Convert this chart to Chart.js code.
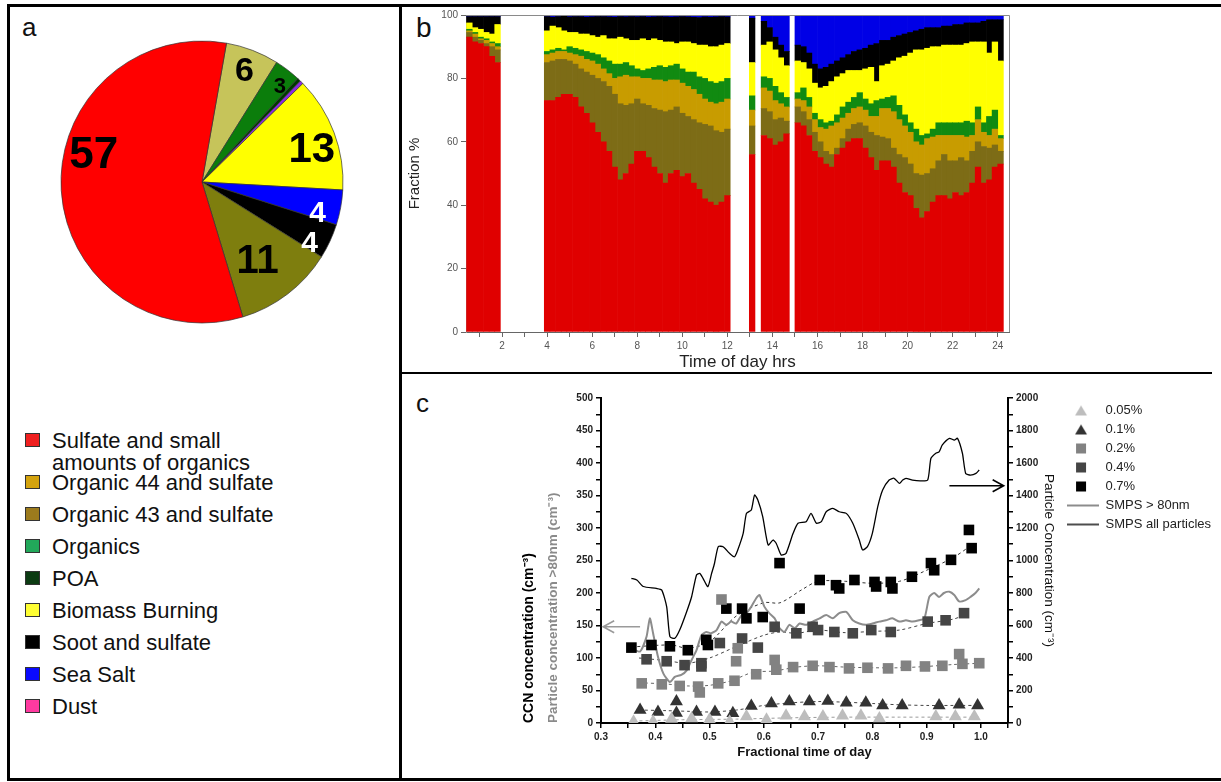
<!DOCTYPE html>
<html>
<head>
<meta charset="utf-8">
<script src="https://cdn.jsdelivr.net/npm/chart.js@4.4.1/dist/chart.umd.min.js"></script>
<style>
  body { margin: 0; background: #fff; font-family: "Liberation Sans", Arial, sans-serif; }
  #fig { position: relative; width: 1221px; height: 782px; overflow: hidden; }
  canvas { position: absolute; }
  .rule { position: absolute; background: #000; z-index: 5; }
  .tag { position: absolute; font-size: 26px; color: #111; }
  .leg { position: absolute; left: 25px; font-size: 22px; line-height: 22px; color: #111; }
  .sw { position: absolute; left: 0; top: 3px; width: 15px; height: 14px; border: 1px solid #333; box-sizing: border-box; }
  .lt { position: absolute; left: 27px; top: 0; white-space: nowrap; }
</style>
</head>
<body>
<div id="fig">
  <div class="rule" style="left:7px;top:4px;width:1214px;height:3px"></div>
  <div class="rule" style="left:7px;top:4px;width:3px;height:777px"></div>
  <div class="rule" style="left:7px;top:778px;width:1214px;height:3px"></div>
  <div class="rule" style="left:399px;top:4px;width:3px;height:777px"></div>
  <div class="rule" style="left:400px;top:372px;width:812px;height:2px"></div>

  <div class="tag" style="left:22px;top:12px">a</div>
  <div class="tag" style="left:416px;top:12px;font-size:28px">b</div>
  <div class="tag" style="left:416px;top:388px">c</div>

  <canvas id="pie" width="300" height="300" style="left:52px;top:32px"></canvas>
  <canvas id="bars" width="817" height="370" style="left:402px;top:5px"></canvas>
  <canvas id="ccn" width="819" height="402" style="left:402px;top:376px"></canvas>

  <div id="pieLegend"></div>
</div>

<script>
// ---------- panel a : campaign average composition ----------
const pieLabels = ['Organic 44 and sulfate', 'Organics', 'POA', 'Dust', 'Biomass Burning',
  'Sea Salt', 'Soot and sulfate', 'Organic 43 and sulfate', 'Sulfate and small amounts of organics'];
const pieValues = [6.1, 3, 0.4, 0.4, 13.2, 4, 4, 11.4, 57.4];
const pieColors = ['#c6c45a', '#0b7d0b', '#003a00', '#8a2be2', '#ffff00', '#0000ff', '#000000', '#7e7e0e', '#ff0000'];

// legend below the pie (its own order and swatch colours)
const legendNames = ['Sulfate and small<br>amounts of organics', 'Organic 44 and sulfate', 'Organic 43 and sulfate',
  'Organics', 'POA', 'Biomass Burning', 'Soot and sulfate', 'Sea Salt', 'Dust'];
const legendColors = ['#f02020', '#d4a30e', '#9c7b1d', '#22a85a', '#0c3b12', '#ffff33', '#000000', '#0a0aff', '#ff3aa0'];
const legendRows = [430, 472, 504, 536, 568, 600, 632, 664, 696];

// ---------- panel b : fraction by time of day ----------
const hours = [0.55, 0.8, 1.05, 1.3, 1.55, 1.8,
  4, 4.25, 4.5, 4.75, 5, 5.25, 5.5, 5.75, 6, 6.25, 6.5, 6.75, 7, 7.25, 7.5, 7.75, 8, 8.25, 8.5, 8.75,
  9, 9.25, 9.5, 9.75, 10, 10.25, 10.5, 10.75, 11, 11.25, 11.5, 11.75, 12,
  13.1,
  13.625, 13.875, 14.125, 14.375, 14.625,
  15.125, 15.375, 15.625, 15.875, 16.125, 16.375, 16.625, 16.875, 17.125, 17.375, 17.625, 17.875,
  18.125, 18.375, 18.625, 18.875, 19.125, 19.375, 19.625, 19.875, 20.125, 20.375, 20.625, 20.875,
  21.125, 21.375, 21.625, 21.875, 22.125, 22.375, 22.625, 22.875, 23.125, 23.375, 23.625, 23.875, 24.125];
const hourTicks = [1, 2, 3, 4, 5, 6, 7, 8, 9, 10, 11, 12, 13, 14, 15, 16, 17, 18, 19, 20, 21, 22, 23, 24];

// upper edge of each layer (cumulative %)
const sulfateTop = [93, 91.5, 91, 90, 87, 85,
  73, 73, 74, 75, 75, 74, 71, 69, 66, 63, 60, 57, 52, 48, 50, 53, 57, 57, 55, 52, 50, 47, 50, 51, 49, 50, 47, 45, 42, 41, 40, 41, 43,
  56,
  62, 61, 59, 60, 62.5,
  66, 65, 62, 57, 55, 53, 52, 56, 58, 60, 61, 61, 58, 55, 51, 54, 54, 52, 47, 44, 43, 39, 36, 38, 41, 43, 43, 42, 44, 43, 44, 47, 52, 47, 48, 52, 53];
const org43Top = [94.5, 93, 92, 91, 90, 89,
  85, 85.5, 86, 86, 85.5, 84.5, 83, 82, 81, 80, 79, 77.5, 75, 72, 71.5, 72, 73.5, 72, 71.5, 70.5, 70, 69.5, 70, 71, 69, 68, 67, 66, 65.5, 65, 63.5, 63, 64,
  65,
  70.5, 69.5, 67, 67.5, 66.5,
  71, 69.5, 67, 63, 60, 57, 56, 58, 61, 64, 65.5, 66, 65, 63, 62, 61.5, 61, 58, 56, 55, 53, 50, 49.5, 50, 51.5, 54, 56, 54, 54, 55, 54, 57, 60, 58.5, 58, 59, 57];
const org44Top = [95, 94, 92.5, 92, 91, 90,
  87.5, 88, 88.5, 88.5, 88, 87.5, 87, 86, 85.5, 84.5, 83, 81.5, 80, 80.5, 81, 80.5, 80.5, 80, 80, 79.5, 79.5, 79, 79.5, 79.5, 78.5, 77.5, 76.5, 75, 73.5, 72.5, 72, 72.5, 73.5,
  70,
  77, 76, 73, 72, 71,
  73.5, 73, 71, 67, 64.5, 64, 65, 66, 67.5, 69, 70.5, 71, 70, 68, 68, 70.5, 70.5, 69.5, 67, 65, 63, 60, 59, 61, 61.5, 62, 62, 62, 62, 62, 61.5, 62, 67, 63, 62, 64, 61];
const organicsTop = [95.5, 94.5, 93, 92.5, 91.5, 91,
  88.5, 89, 89.5, 89, 90, 89.5, 89, 88.5, 88, 87.5, 86.5, 85.5, 84.5, 84.5, 85, 84, 83, 82.5, 83, 83.5, 84, 83.5, 84, 84.5, 83, 82, 82, 80.5, 80, 79, 78.5, 79, 80,
  74.5,
  80.5, 80, 77.5, 75.5, 74,
  75.5, 77, 74, 69, 67, 66, 66.5, 68.5, 71, 72.5, 74, 75.5, 73.5, 72, 73, 73.5, 74, 74.5, 71.5, 68.5, 66, 64, 62, 62.5, 64, 66, 66, 66, 66, 66, 66.5, 66, 71, 66, 68, 70, 62];
const biomassTop = [97.5, 96, 95.5, 94.5, 94, 97,
  95, 96.5, 96, 95, 94.5, 94.5, 94, 94, 93.5, 93, 93.5, 92.5, 92.5, 93, 92.5, 92, 92, 92.5, 92, 92.5, 92, 91.5, 91.5, 91, 91.5, 91.5, 91, 90.5, 90.5, 90, 90, 90.5, 91,
  85,
  90.5, 91.5, 89, 86.5, 84,
  85.5, 85, 83, 78.5, 77, 77.5, 79, 80.5, 81.5, 82.5, 82.5, 82.5, 83, 83.5, 79, 84, 84.5, 85.5, 86.5, 87, 88, 89, 89, 89.5, 90, 90, 90.5, 90.5, 90.5, 90.5, 91, 91.5, 91.5, 91.5, 88, 91.5, 85.5];
const sootTop = [99.5, 99.5, 99.5, 99.5, 99.5, 99.5,
  99.5, 99.3, 99.5, 99.6, 99.4, 99.5, 99.5, 99.3, 99.4, 99.5, 99.5, 99.4, 99.3, 99.5, 99.4, 99.5, 99.4, 99.5, 99.3, 99.4, 99.5, 99.4, 99.3, 99.4, 99.5, 99.4, 99.3, 99.2, 99.4, 99.3, 99.4, 99.5, 99.4,
  99,
  98, 96, 93, 90.5, 88.5,
  90.5, 90, 88, 84.5, 83, 83.5, 84.5, 85.5, 86.5, 87.5, 88.5, 89, 89.5, 90.5, 91, 92, 92, 93, 93.5, 94, 94.5, 95, 95.5, 96, 96, 96, 96.5, 96.5, 97, 97, 97.5, 97.5, 97.5, 98, 98.5, 98.5, 98.5];

const layerNames = ['Sulfate and small amounts of organics', 'Organic 43 and sulfate', 'Organic 44 and sulfate',
  'Organics', 'Biomass Burning', 'Soot and sulfate', 'Sea Salt'];
const layerColors = ['#e00000', '#7d6c16', '#c89c00', '#118a11', '#ffff00', '#000000', '#0000e6'];

// ---------- panel c : CCN and particle concentrations ----------
const smpsAllX = [0.356, 0.366, 0.378, 0.402, 0.412, 0.421, 0.427, 0.436, 0.445, 0.457, 0.467, 0.476, 0.482, 0.488, 0.497,
  0.504, 0.509, 0.516, 0.525, 0.537, 0.546, 0.552, 0.562, 0.568, 0.577, 0.583, 0.589, 0.598, 0.608, 0.617, 0.623, 0.632,
  0.641, 0.654, 0.663, 0.678, 0.687, 0.697, 0.706, 0.715, 0.727, 0.739, 0.752, 0.764, 0.776, 0.782, 0.791, 0.8, 0.81,
  0.819, 0.831, 0.84, 0.85, 0.856, 0.862, 0.874, 0.888, 0.902, 0.908, 0.917, 0.923, 0.929, 0.942, 0.951, 0.957, 0.966,
  0.972, 0.981, 0.991, 0.997];
const smpsAll = [890, 880, 840, 828, 818, 716, 531, 521, 572, 677, 777, 911, 921, 890, 839,
  923, 980, 1085, 1085, 1044, 1023, 1065, 1167, 1290, 1311, 1403, 1372, 1270, 1095, 1126, 1105, 1034,
  1044, 1167, 1229, 1239, 1290, 1229, 1239, 1300, 1321, 1300, 1290, 1229, 1126, 1065, 1085, 1167, 1331,
  1434, 1495, 1506, 1475, 1495, 1506, 1495, 1490, 1495, 1629, 1660, 1669, 1711, 1752, 1741, 1752, 1660,
  1536, 1526, 1536, 1557];
const smps80X = [0.356, 0.372, 0.384, 0.39, 0.396, 0.405, 0.415, 0.427, 0.436, 0.448, 0.458, 0.467, 0.476, 0.485, 0.494,
  0.503, 0.513, 0.522, 0.531, 0.54, 0.549, 0.559, 0.568, 0.577, 0.586, 0.592, 0.601, 0.61, 0.62, 0.629, 0.638, 0.647,
  0.657, 0.666, 0.678, 0.69, 0.703, 0.715, 0.727, 0.739, 0.752, 0.764, 0.776, 0.788, 0.8, 0.813, 0.825, 0.837, 0.85,
  0.862, 0.874, 0.886, 0.896, 0.905, 0.914, 0.923, 0.932, 0.942, 0.951, 0.96, 0.972, 0.981, 0.99, 0.997];
const smps80 = [115, 110, 133, 161, 138, 102, 76, 63, 71, 74, 81, 97, 112, 135, 140,
  138, 143, 156, 151, 156, 153, 166, 169, 179, 192, 197, 179, 169, 161, 146, 140, 151,
  146, 153, 151, 156, 161, 166, 161, 169, 171, 158, 153, 151, 153, 156, 158, 161, 156,
  158, 156, 158, 161, 194, 200, 194, 200, 202, 197, 187, 189, 194, 200, 207];

const ccn005X = [0.36, 0.396, 0.43, 0.467, 0.5, 0.537, 0.568, 0.605, 0.641, 0.675, 0.709, 0.745, 0.779, 0.813, 0.917, 0.953, 0.988];
const ccn005 = [2, 2, 6, 7, 5, 2, 10, 5, 11, 10, 10, 11, 11, 7, 10, 10, 10];
const ccn01X = [0.372, 0.405, 0.439, 0.439, 0.476, 0.51, 0.543, 0.577, 0.614, 0.647, 0.684, 0.718, 0.752, 0.788, 0.819, 0.855, 0.923, 0.96, 0.994];
const ccn01 = [20, 17, 33, 15.5, 17, 17, 15, 26, 30, 33, 33, 34, 31, 31, 27, 27, 27, 28, 27];
const ccn02X = [0.375, 0.412, 0.445, 0.479, 0.482, 0.516, 0.522, 0.546, 0.549, 0.552, 0.586, 0.62, 0.623, 0.654, 0.69,
  0.721, 0.757, 0.791, 0.829, 0.862, 0.897, 0.929, 0.96, 0.966, 0.997];
const ccn02 = [61, 59.5, 57, 56, 47, 61, 190, 65, 95, 115, 75, 97, 82, 86, 88, 86, 84, 85, 84, 88, 87, 88, 106, 91, 92];
const ccn04X = [0.384, 0.421, 0.454, 0.485, 0.485, 0.519, 0.56, 0.589, 0.62, 0.66, 0.69, 0.7, 0.73, 0.764, 0.798, 0.834, 0.902, 0.935, 0.969];
const ccn04 = [98, 95, 89, 92, 87, 123, 130, 116, 148, 138, 148, 143, 140, 138, 143, 140, 156, 158, 169];
const ccn07X = [0.356, 0.393, 0.427, 0.46, 0.494, 0.497, 0.531, 0.56, 0.568, 0.598, 0.629, 0.666, 0.703, 0.733, 0.739,
  0.767, 0.804, 0.807, 0.834, 0.837, 0.873, 0.908, 0.914, 0.945, 0.978, 0.983];
const ccn07 = [116, 120, 118, 112, 128, 120, 176, 176, 161, 163, 246, 176, 220, 212, 207, 220, 217, 210, 217, 207, 225, 246, 235, 251, 297, 269];

// dashed smoothed curves drawn through each CCN series
const trend005X = [0.36, 0.45, 0.55, 0.65, 0.75, 0.85, 0.95, 1.0];
const trend005 = [3, 5, 6, 8, 9, 9, 9, 9];
const trend01X = [0.37, 0.42, 0.46, 0.5, 0.55, 0.6, 0.65, 0.7, 0.75, 0.8, 0.85, 0.9, 0.95, 1.0];
const trend01 = [20, 19, 18, 17, 20, 27, 31, 33, 32, 30, 28, 27, 27, 27];
const trend02X = [0.37, 0.42, 0.46, 0.5, 0.54, 0.58, 0.62, 0.66, 0.7, 0.75, 0.8, 0.85, 0.9, 0.95, 1.0];
const trend02 = [62, 60, 57, 58, 65, 78, 80, 86, 88, 86, 85, 85, 87, 90, 92];
const trend04X = [0.37, 0.42, 0.46, 0.5, 0.55, 0.6, 0.63, 0.66, 0.7, 0.75, 0.8, 0.85, 0.9, 0.95, 0.975];
const trend04 = [100, 96, 92, 100, 118, 135, 140, 138, 143, 139, 141, 143, 153, 160, 168];
const trend07X = [0.356, 0.43, 0.46, 0.5, 0.55, 0.6, 0.63, 0.67, 0.7, 0.75, 0.8, 0.85, 0.9, 0.95, 0.985];
const trend07 = [117, 120, 115, 125, 165, 185, 185, 205, 218, 218, 215, 218, 235, 255, 275];

// arrows telling which axis each SMPS curve belongs to
const axisArrows = [
  { from: 0.372, to: 0.304, at: 148, axis: 'y', color: '#9a9a9a' },
  { from: 0.942, to: 1.042, at: 1460, axis: 'y2', color: '#000' }
];

Chart.defaults.font.family = '"Liberation Sans", Arial, sans-serif';
Chart.defaults.animation = false;
Chart.defaults.responsive = false;
Chart.defaults.plugins.tooltip.enabled = false;

// ----- legend of panel a (html) -----
const legendBox = document.getElementById('pieLegend');
legendNames.forEach((name, i) => {
  const row = document.createElement('div');
  row.className = 'leg';
  row.style.top = legendRows[i] + 'px';
  row.innerHTML = `<span class="sw" style="background:${legendColors[i]}"></span><span class="lt">${name}</span>`;
  legendBox.appendChild(row);
});

// numbers written on the slices
const sliceText = [
  { r: 0.84, shift: 0, size: 34, color: '#000' },
  { r: 0.87, shift: 2, size: 22, color: '#000' },
  null, null,
  { r: 0.81, shift: 4.5, size: 42, color: '#000' },
  { r: 0.85, shift: 5, size: 30, color: '#fff' },
  { r: 0.88, shift: 5, size: 30, color: '#fff' },
  { r: 0.69, shift: 2.5, size: 40, color: '#000' },
  { r: 0.79, shift: 17, size: 44, color: '#000' }
];
const sliceNumbers = {
  id: 'sliceNumbers',
  afterDatasetsDraw(chart) {
    const ctx = chart.ctx;
    chart.getDatasetMeta(0).data.forEach((arc, i) => {
      const st = sliceText[i];
      if (!st) return;
      const mid = (arc.startAngle + arc.endAngle) / 2 + st.shift * Math.PI / 180;
      const r = arc.outerRadius * st.r;
      ctx.save();
      ctx.font = `bold ${st.size}px "Liberation Sans", Arial, sans-serif`;
      ctx.fillStyle = st.color;
      ctx.textAlign = 'center';
      ctx.textBaseline = 'middle';
      ctx.fillText(String(Math.round(pieValues[i])), arc.x + Math.cos(mid) * r, arc.y + Math.sin(mid) * r);
      ctx.restore();
    });
  }
};

new Chart(document.getElementById('pie'), {
  type: 'pie',
  data: {
    labels: pieLabels,
    datasets: [{ data: pieValues, backgroundColor: pieColors, borderColor: '#333', borderWidth: 0.7 }]
  },
  options: {
    rotation: 10,
    radius: 141,
    layout: { padding: 0 },
    plugins: { legend: { display: false } }
  },
  plugins: [sliceNumbers]
});

// ----- panel b -----
const tops = [sulfateTop, org43Top, org44Top, organicsTop, biomassTop, sootTop];
const layerData = tops.map((top, k) => top.map((v, i) => ({ x: hours[i], y: +(v - (k ? tops[k - 1][i] : 0)).toFixed(2) })));
layerData.push(sootTop.map((v, i) => ({ x: hours[i], y: +(100 - v).toFixed(2) })));

const plotFrame = {
  id: 'plotFrame',
  afterDraw(chart) {
    const { ctx, chartArea: a } = chart;
    ctx.save();
    ctx.strokeStyle = '#8a8a8a';
    ctx.lineWidth = 1;
    ctx.beginPath();
    ctx.moveTo(a.left, a.top + 0.5);
    ctx.lineTo(a.right + 0.5, a.top + 0.5);
    ctx.lineTo(a.right + 0.5, a.bottom);
    ctx.stroke();
    ctx.restore();
  }
};

new Chart(document.getElementById('bars'), {
  type: 'bar',
  data: {
    datasets: layerData.map((d, k) => ({
      label: layerNames[k], data: d, backgroundColor: layerColors[k], borderWidth: 0,
      barPercentage: 1, categoryPercentage: 1
    }))
  },
  options: {
    layout: { padding: { top: 10, right: 210 } },
    plugins: { legend: { display: false } },
    scales: {
      x: {
        type: 'linear', stacked: true, min: 0.4, max: 24.5, offset: false,
        afterBuildTicks: s => { s.ticks = hourTicks.map(v => ({ value: v })); },
        afterFit: s => { s.height = 43; },
        ticks: { autoSkip: false, maxRotation: 0, color: '#555', font: { size: 10 },
          callback: v => (v % 2 === 0 ? v : '') },
        grid: { drawOnChartArea: false, offset: false, tickLength: 5, color: '#666' },
        border: { color: '#666' },
        title: { display: true, text: 'Time of day hrs', color: '#222', font: { size: 17 }, padding: { top: 0, bottom: 2 } }
      },
      y: {
        stacked: true, min: 0, max: 100,
        afterFit: s => { s.width = 64; },
        ticks: { stepSize: 20, color: '#555', font: { size: 10 } },
        grid: { drawOnChartArea: false, tickLength: 5, color: '#666' },
        border: { color: '#999' },
        title: { display: true, text: 'Fraction %', color: '#222', font: { size: 15 } }
      }
    }
  },
  plugins: [plotFrame]
});

// ----- panel c -----
const pts = (xs, ys) => xs.map((x, i) => ({ x, y: ys[i] }));

function legendIcon(kind, color) {
  const c = document.createElement('canvas');
  c.width = 32; c.height = 12;
  const g = c.getContext('2d');
  g.fillStyle = color; g.strokeStyle = color;
  if (kind === 'triangle') {
    g.beginPath(); g.moveTo(8, 11); g.lineTo(20, 11); g.lineTo(14, 1); g.closePath(); g.fill();
  } else if (kind === 'rect') {
    g.fillRect(9, 1, 10, 10);
  } else {
    g.lineWidth = kind === 'thick' ? 2 : 1.4;
    g.beginPath(); g.moveTo(0, 6); g.lineTo(32, 6); g.stroke();
  }
  return c;
}

const ccnSeries = [
  { label: '0.05%', xs: ccn005X, ys: ccn005, tx: trend005X, ty: trend005, style: 'triangle', color: '#bdbdbd', dash: '#9a9a9a' },
  { label: '0.1%', xs: ccn01X, ys: ccn01, tx: trend01X, ty: trend01, style: 'triangle', color: '#333333', dash: '#444' },
  { label: '0.2%', xs: ccn02X, ys: ccn02, tx: trend02X, ty: trend02, style: 'rect', color: '#828282', dash: '#666' },
  { label: '0.4%', xs: ccn04X, ys: ccn04, tx: trend04X, ty: trend04, style: 'rect', color: '#454545', dash: '#444' },
  { label: '0.7%', xs: ccn07X, ys: ccn07, tx: trend07X, ty: trend07, style: 'rect', color: '#000000', dash: '#333' }
];
const legendIcons = ccnSeries.map(s => legendIcon(s.style, s.color))
  .concat([legendIcon('thick', '#8c8c8c'), legendIcon('thin', '#000')]);

const arrowPlugin = {
  id: 'axisArrows',
  afterDatasetsDraw(chart) {
    const { ctx, scales } = chart;
    axisArrows.forEach(a => {
      const x1 = scales.x.getPixelForValue(a.from), x2 = scales.x.getPixelForValue(a.to);
      const y = scales[a.axis].getPixelForValue(a.at);
      const dir = Math.sign(x2 - x1);
      ctx.save();
      ctx.strokeStyle = a.color;
      ctx.lineWidth = 1.6;
      ctx.beginPath();
      ctx.moveTo(x1, y); ctx.lineTo(x2, y);
      ctx.moveTo(x2 - dir * 11, y - 6); ctx.lineTo(x2, y); ctx.lineTo(x2 - dir * 11, y + 6);
      ctx.stroke();
      ctx.restore();
    });
  }
};

const tickFont = { size: 10, weight: 'bold' };
const pointSets = ccnSeries.map(s => ({
  label: s.label, data: pts(s.xs, s.ys), yAxisID: 'y',
  pointStyle: s.style, pointRadius: 7.5,
  backgroundColor: s.color, borderColor: s.color, pointBorderWidth: 0,
  clip: { left: false, top: false, right: false, bottom: 0 }
}));
const smpsSets = [
  { type: 'line', label: 'SMPS > 80nm', data: pts(smps80X, smps80), yAxisID: 'y',
    borderColor: '#8c8c8c', borderWidth: 2, pointRadius: 0, pointStyle: 'line', tension: 0.2 },
  { type: 'line', label: 'SMPS all particles', data: pts(smpsAllX, smpsAll), yAxisID: 'y2',
    borderColor: '#000', borderWidth: 1.3, pointRadius: 0, pointStyle: 'line', tension: 0.2 }
];
const trendSets = ccnSeries.map(s => ({
  type: 'line', label: s.label + ' trend', data: pts(s.tx, s.ty), yAxisID: 'y',
  borderColor: s.dash, borderWidth: 1, borderDash: [3, 3], pointRadius: 0, tension: 0.3
}));
const shownInLegend = pointSets.length + smpsSets.length;

new Chart(document.getElementById('ccn'), {
  type: 'scatter',
  data: { datasets: pointSets.concat(smpsSets, trendSets) },
  options: {
    layout: { padding: { top: 22, left: 115, bottom: 14, right: 0 } },
    plugins: {
      legend: {
        position: 'right', align: 'start', maxWidth: 170,
        labels: {
          usePointStyle: true, pointStyleWidth: 32, boxHeight: 13, padding: 6,
          color: '#222', font: { size: 13 },
          generateLabels(chart) {
            const items = Chart.defaults.plugins.legend.labels.generateLabels(chart)
              .filter(it => it.datasetIndex < shownInLegend);
            items.forEach((it, i) => { it.pointStyle = legendIcons[i]; });
            return items;
          }
        }
      }
    },
    scales: {
      x: {
        type: 'linear', min: 0.3, max: 1.05,
        afterFit: s => { s.height = 41; },
        ticks: { stepSize: 0.05, autoSkip: false, maxRotation: 0, color: '#222', font: tickFont,
          callback: v => (Math.abs(v * 10 - Math.round(v * 10)) < 1e-6 ? v.toFixed(1) : '') },
        grid: { drawOnChartArea: false, tickLength: 5, color: '#000', lineWidth: 1.5 },
        border: { color: '#000', width: 2 },
        title: { display: true, text: 'Fractional time of day', color: '#111', font: { size: 13, weight: 'bold' } }
      },
      y: {
        position: 'left', min: 0, max: 500, weight: 0,
        afterFit: s => { s.width = 60; },
        ticks: { stepSize: 25, autoSkip: false, color: '#222', font: tickFont,
          callback: v => (v % 50 === 0 ? v : '') },
        grid: { drawOnChartArea: false, tickLength: 5, color: '#000', lineWidth: 1.5 },
        border: { color: '#000', width: 2 },
        title: { display: true, text: 'Particle concentration >80nm (cm\u207B\u00B3)', align: 'start',
          color: '#8a8a8a', font: { size: 13.5, weight: 'bold' } }
      },
      yT: {
        position: 'left', weight: 1, min: 0, max: 1,
        afterFit: s => { s.width = 24; },
        ticks: { display: false },
        grid: { display: false, drawTicks: false },
        border: { display: false },
        title: { display: true, text: 'CCN concentration (cm\u207B\u00B3)', align: 'start',
          color: '#000', font: { size: 14, weight: 'bold' } }
      },
      y2: {
        position: 'right', min: 0, max: 2000,
        afterFit: s => { s.width = s.chart.width - s.chart.legend.width - 606; },
        ticks: { stepSize: 100, autoSkip: false, color: '#222', font: tickFont,
          callback: v => (v % 200 === 0 ? v : '') },
        grid: { drawOnChartArea: false, tickLength: 5, color: '#000', lineWidth: 1.5 },
        border: { color: '#000', width: 2 },
        title: { display: true, text: 'Particle Concentration (cm\u207B\u00B3)', color: '#111', font: { size: 13.5 } }
      }
    }
  },
  plugins: [arrowPlugin]
});
</script>
</body>
</html>
